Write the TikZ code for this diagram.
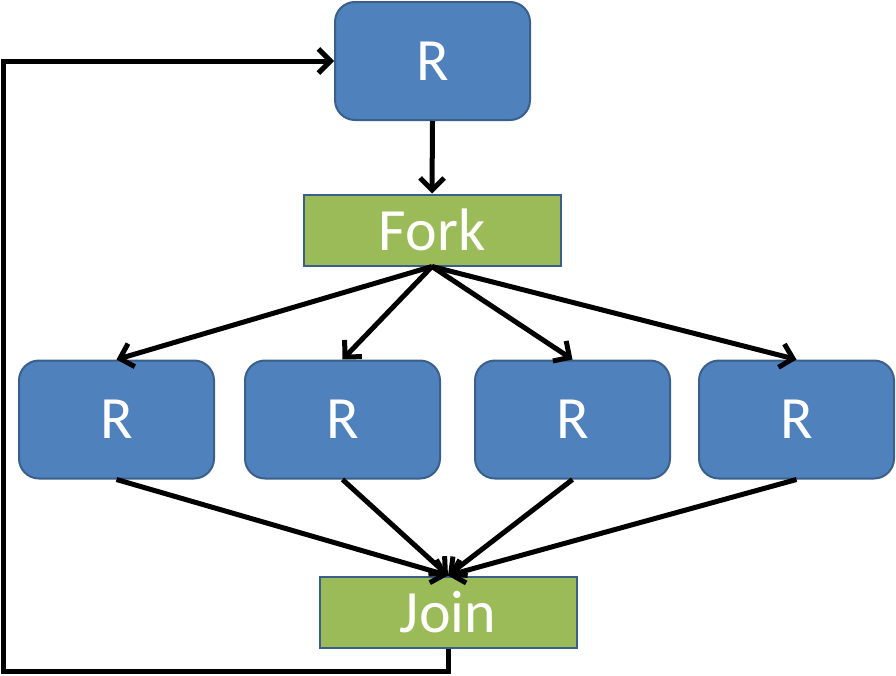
\documentclass[tikz,border=0pt]{standalone}
\usepackage{fontspec}
\setmainfont{Carlito}
\usetikzlibrary{arrows.meta}
\definecolor{rfill}{HTML}{4F81BD}
\definecolor{rdraw}{HTML}{3A5F8B}
\definecolor{gfill}{HTML}{9BBB59}
\tikzset{
  rbox/.style={draw=rdraw, line width=2pt, fill=rfill, rounded corners=20pt,
    minimum width=195pt, minimum height=118pt, inner sep=0pt, text=white,
    font=\fontsize{60}{62}\selectfont},
  gbox/.style={draw=rdraw, line width=2pt, fill=gfill,
    minimum width=257pt, minimum height=71pt, inner sep=0pt, text=white,
    font=\fontsize{60}{62}\selectfont},
  conn/.style={line width=5pt, -{Straight Barb[length=12pt,width=24pt,line width=5pt]}},
}
\begin{document}
\begin{tikzpicture}[x=1pt,y=-1pt]
\useasboundingbox (0,0) rectangle (896,675);
\node[rbox] (top) at (432.5,61) {R};
\node[gbox] (fork) at (432,230) {Fork};
\node[rbox] (r1) at (116.5,419.5) {R};
\node[rbox] (r2) at (342.5,419.5) {R};
\node[rbox] (r3) at (572.5,419.5) {R};
\node[rbox] (r4) at (796.5,419.5) {R};
\node[gbox] (join) at (448,612) {Join};
\draw[conn] (top.south) -- (fork.north);
\foreach \r in {r1,r2,r3,r4}{
  \draw[conn] (fork.south) -- (\r.north);
  \draw[conn] (\r.south) -- (join.north);
}
\coordinate (c1) at (448,671);
\coordinate (c2) at (3,671);
\coordinate (c3) at (3,61);
\draw[conn, line join=miter] (join.south) -- (c1) -- (c2) -- (c3) -- (top.west);
\end{tikzpicture}
\end{document}
